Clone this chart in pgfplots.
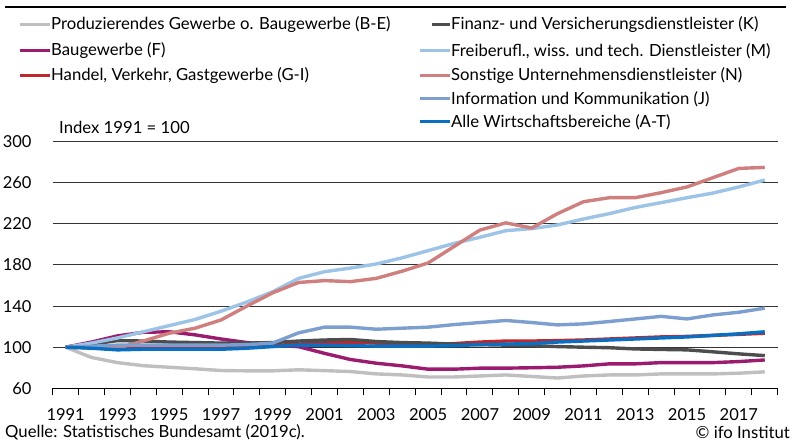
\documentclass[border=0pt]{standalone}
\usepackage{pgfplots}
\pgfplotsset{compat=1.18}
\usepackage{pgfplotstable}
\usepackage{fontspec}
\setmainfont{Lato}
\definecolor{cBE}{HTML}{BFBFBF}
\definecolor{cF}{HTML}{9B1B6E}
\definecolor{cGI}{HTML}{C0272D}
\definecolor{cK}{HTML}{4D4D4D}
\definecolor{cM}{HTML}{9DC3E6}
\definecolor{cN}{HTML}{D07F7F}
\definecolor{cJ}{HTML}{7C9FD0}
\definecolor{cAT}{HTML}{0B6FC1}
\pgfplotstableread{
year BE F GI K M N J AT
1991 100 100 100 100 100 100 100 100
1992 90 105 99.5 103 104 100 101 99
1993 85 111 99.5 106.4 109 99 102 97.4
1994 82 114.5 100 106 115 106 102 98
1995 80.5 115 100 105 121 113.6 102 98
1996 79 112 100 104.5 127 118.5 102 98
1997 77.3 108 100 104 135 126.5 102 98
1998 77 104.5 100.5 104 144 140 102.5 99
1999 77 102 101.5 104.5 154 153 104 100.6
2000 78 100.5 103 106 167 163 114 102
2001 77.2 94 104.5 107 173.5 164.8 119.5 102
2002 76.3 88 105 107.5 177 163.8 119.5 101.5
2003 74 84.4 104 105.5 181 167 117.5 101
2004 73 81.8 103 104.5 187 174 118.5 101
2005 71 78.6 102.5 104 194 182 119.5 101
2006 71 78.6 103.5 103 201 198 122 101.5
2007 72 79.6 105 102.5 207 214 124 102.5
2008 73 79.6 106 102 213.4 221 126 103
2009 71.5 80 106 101.5 215.4 216 124 103.5
2010 70 80.5 106.4 100.6 219 230 121.7 105
2011 72 81.8 107 100 224.8 241.6 122.7 106
2012 73 83.8 108 99.5 230 245.5 125 107
2013 73 83.8 109 98.3 236 245.5 127.5 108
2014 74 85 110 97.8 240.7 250.4 130 109
2015 74 85 110.5 97.4 245.5 256 127.5 110
2016 74 85 111.5 95.5 250 265 131.4 111.5
2017 74.7 86 112.5 93.5 256 274 134 113
2018 76 87.6 113.6 91.8 262.7 275 138 115
}\datatable
\begin{document}
\begin{tikzpicture}
\path (0pt,0pt) rectangle (792pt,441pt);
\draw[line width=2pt] (5pt,434pt) -- (786pt,434pt);
% legend
\begin{scope}[line width=3pt]
\draw[cBE] (20pt,416pt) -- (50pt,416pt);
\draw[cF] (20pt,390pt) -- (50pt,390pt);
\draw[cGI] (20pt,365pt) -- (50pt,365pt);
\draw[cK] (432pt,416pt) -- (450pt,416pt);
\draw[cM] (420pt,390pt) -- (450pt,390pt);
\draw[cN] (420pt,365pt) -- (450pt,365pt);
\draw[cJ] (420pt,342pt) -- (450pt,342pt);
\draw[cAT] (420pt,319pt) -- (450pt,319pt);
\end{scope}
\begin{scope}[every node/.style={anchor=west, inner sep=0pt, font=\fontsize{16.7}{19}\selectfont}]
\node at (51pt,416pt) {Produzierendes Gewerbe o. Baugewerbe (B-E)};
\node at (51pt,390pt) {Baugewerbe (F)};
\node at (51pt,365pt) {Handel, Verkehr, Gastgewerbe (G-I)};
\node at (451pt,416pt) {Finanz- und Versicherungsdienstleister (K)};
\node at (451pt,390pt) {Freiberufl., wiss. und tech. Dienstleister (M)};
\node at (451pt,365pt) {Sonstige Unternehmensdienstleister (N)};
\node at (451pt,342pt) {Information und Kommunikation (J)};
\node at (451pt,319pt) {Alle Wirtschaftsbereiche (A-T)};
\node at (59pt,314pt) {Index 1991 = 100};
\node at (5pt,9pt) {Quelle: Statistisches Bundesamt (2019c).};
\node[anchor=east] at (790pt,9pt) {© ifo Institut};
\end{scope}
\begin{axis}[
  at={(52.7pt,52.7pt)}, anchor=south west,
  scale only axis, width=725pt, height=246.6pt,
  xmin=1990.5, xmax=2018.5, ymin=60, ymax=300,
  axis x line*=bottom, axis y line*=left,
  y axis line style={draw=none},
  x axis line style={line width=1.2pt, black},
  xtick={1990.5,1991.5,...,2018.5}, xticklabels={},
  x tick style={black, line width=1pt},
  tick align=outside, major tick length=7pt,
  extra x ticks={1991,1993,...,2017},
  extra x tick style={grid=none, tick style={draw=none}},
  extra x tick labels={1991,1993,1995,1997,1999,2001,2003,2005,2007,2009,2011,2013,2015,2017},
  ytick={60,100,...,300},
  y tick style={draw=none},
  ymajorgrids, grid style={line width=1pt, black!80},
  yticklabel style={anchor=east, inner sep=0pt, xshift=-14pt},
  xticklabel style={anchor=north, inner sep=0pt, yshift=-13pt},
  tick label style={font=\fontsize{16.5}{18}\selectfont},
  /pgf/number format/assume math mode=true,
  /pgf/number format/set thousands separator={},
  every axis plot/.append style={line width=3.4pt, line join=round, no marks},
  clip=false,
]
\addplot[cBE] table[x=year,y=BE]{\datatable};
\addplot[cF] table[x=year,y=F]{\datatable};
\addplot[cGI] table[x=year,y=GI]{\datatable};
\addplot[cK] table[x=year,y=K]{\datatable};
\addplot[cM] table[x=year,y=M]{\datatable};
\addplot[cN] table[x=year,y=N]{\datatable};
\addplot[cJ] table[x=year,y=J]{\datatable};
\addplot[cAT] table[x=year,y=AT]{\datatable};
\end{axis}
\end{tikzpicture}
\end{document}
